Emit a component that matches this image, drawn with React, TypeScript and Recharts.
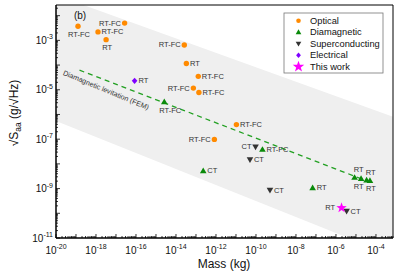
import React from 'react';
import { ComposedChart, Area, Line, Scatter, XAxis, YAxis, ReferenceArea } from 'recharts';

const FONT = '"Liberation Sans", Arial, Helvetica, sans-serif';

// axis domains (kg, g/sqrtHz)
const X_DOMAIN = [1e-20, 7.1e-4];
const Y_DOMAIN = [1e-11, 2.7e-2];

// tick labels (exponents of 10)
const xLabelExps = [-20, -18, -16, -14, -12, -10, -8, -6, -4];
const yLabelExps = [-11, -9, -7, -5, -3];
const xDecadeExps = [-20, -19, -18, -17, -16, -15, -14, -13, -12, -11, -10, -9, -8, -7, -6, -5, -4];
const yDecadeExps = [-11, -10, -9, -8, -7, -6, -5, -4, -3, -2];

// shaded band
const bandMass = [1e-20, 1e-3];
const bandUpper = [6.8e-2, 7.4e-7];
const bandLower = [5.4e-7, 1.7e-12];

// diamagnetic levitation (FEM) line
const femMass = [1.5e-19, 3.2e-5];
const femValue = [6.2e-5, 2.1e-9];

// Optical
const opticalMass = [1.26e-19, 2.7e-17, 1.26e-18, 3.2e-18, 2.6e-14, 3.3e-14, 1.3e-13, 7.4e-14, 1.4e-13, 1.05e-11, 8.3e-13];
const opticalValue = [3.7e-3, 5.0e-3, 2.2e-3, 1.07e-3, 6.5e-4, 1.15e-4, 3.5e-5, 1.17e-5, 7.8e-6, 3.9e-7, 9.8e-8];
const opticalLabel = ['RT-FC', 'RT-FC', 'RT-FC', 'RT', 'RT-FC', 'RT', 'RT-FC', 'RT-FC', 'RT-FC', 'RT-FC', 'RT-FC'];
const opticalSide = ['b', 'l', 'r', 'b', 'l', 'r', 'r', 'l', 'r', 'r', 'l'];

// Diamagnetic
const diamagMass = [2.6e-15, 2.1e-10, 2.3e-13, 6.8e-8, 8.5e-6, 1.8e-5, 3.4e-5, 5.0e-5];
const diamagValue = [3.2e-6, 3.8e-8, 5.2e-9, 1.07e-9, 2.8e-9, 2.5e-9, 2.2e-9, 2.1e-9];
const diamagLabel = ['RT-FC', 'RT-FC', 'CT', 'RT', 'RT', 'RT', 'RT', 'RT'];
const diamagSide = ['br', 'r', 'r', 'r', 'ar', 'bl', 'ar', 'b'];

// Superconducting
const superMass = [9.5e-11, 5.0e-11, 5.0e-10, 3.4e-6];
const superValue = [4.9e-8, 1.5e-8, 8.7e-10, 1.23e-10];
const superLabel = ['CT', 'CT', 'CT', 'CT'];
const superSide = ['l', 'r', 'r', 'r'];

// Electrical
const elecMass = [8.5e-17];
const elecValue = [2.3e-5];
const elecLabel = ['RT'];
const elecSide = ['r'];

// This work
const thisMass = [1.9e-6];
const thisValue = [1.66e-10];
const thisLabel = ['RT'];
const thisSide = ['l'];

const COLORS = {
  optical: '#ff8a00',
  diamag: '#0a8a0a',
  fem: '#22a022',
  superc: '#333333',
  elec: '#7f00ff',
  star: '#ff00ff',
  band: '#efefef',
};

const zip = (m: number[], v: number[], l: string[], s: string[]) =>
  m.map((mm, i) => ({ m: mm, s: v[i], label: l[i], side: s[i] }));

const bandData = bandMass.map((m, i) => ({ m, band: [bandLower[i], bandUpper[i]] }));
const femData = femMass.map((m, i) => ({ m, s: femValue[i] }));
const opticalData = zip(opticalMass, opticalValue, opticalLabel, opticalSide);
const diamagData = zip(diamagMass, diamagValue, diamagLabel, diamagSide);
const superData = zip(superMass, superValue, superLabel, superSide);
const elecData = zip(elecMass, elecValue, elecLabel, elecSide);
const thisData = zip(thisMass, thisValue, thisLabel, thisSide);

function logTicks(exps: number[], max: number) {
  const out: number[] = [];
  for (const e of exps) {
    for (let k = 1; k <= 9; k++) {
      const v = k * Math.pow(10, e);
      if (v <= max * 1.0001) out.push(v);
    }
  }
  return out;
}
const xTicks = logTicks(xDecadeExps, X_DOMAIN[1]);
const yTicks = logTicks(yDecadeExps, Y_DOMAIN[1]);

function decadeInfo(v: number) {
  const lg = Math.log10(v);
  const e = Math.round(lg);
  return { e, isDecade: Math.abs(lg - e) < 1e-6 };
}

const XTick = (props: any) => {
  const { x, y, payload } = props;
  const { e, isDecade } = decadeInfo(payload.value);
  const len = isDecade ? 4 : 2;
  const labeled = isDecade && xLabelExps.includes(e);
  return (
    <g>
      <line x1={x} y1={y} x2={x} y2={y - len} stroke="#000" strokeWidth={0.8} />
      {labeled && (
        <text x={x} y={y + 15.5} textAnchor="middle" fontSize={10} fill="#111" fontFamily={FONT}>
          <tspan>10</tspan>
          <tspan dy={-4.5} fontSize={7}>{String(e)}</tspan>
        </text>
      )}
    </g>
  );
};

const YTick = (props: any) => {
  const { x, y, payload } = props;
  const { e, isDecade } = decadeInfo(payload.value);
  const len = isDecade ? 4 : 2;
  const labeled = isDecade && yLabelExps.includes(e);
  return (
    <g>
      <line x1={x} y1={y} x2={x + len} y2={y} stroke="#000" strokeWidth={0.8} />
      {labeled && (
        <text x={x - 3} y={y + 3.6} textAnchor="end" fontSize={10} fill="#111" fontFamily={FONT}>
          <tspan>10</tspan>
          <tspan dy={-4.5} fontSize={7}>{String(e)}</tspan>
        </text>
      )}
    </g>
  );
};

function pointLabel(text: string, side: string, cx: number, cy: number, gap: number) {
  const common = { fontSize: 7.5, fill: '#333', fontFamily: FONT, dominantBaseline: 'central' as any };
  if (side === 'l') return <text x={cx - gap} y={cy} textAnchor="end" {...common}>{text}</text>;
  if (side === 'r') return <text x={cx + gap} y={cy} textAnchor="start" {...common}>{text}</text>;
  if (side === 'a') return <text x={cx + 1} y={cy - 8} textAnchor="middle" {...common}>{text}</text>;
  if (side === 'ar') return <text x={cx + 4} y={cy - 8} textAnchor="middle" {...common}>{text}</text>;
  if (side === 'bl') return <text x={cx - 2.5} y={cy + 8} textAnchor="middle" {...common}>{text}</text>;
  if (side === 'br') return <text x={cx + 6} y={cy + 9} textAnchor="middle" {...common}>{text}</text>;
  return <text x={cx + 1} y={cy + 8} textAnchor="middle" {...common}>{text}</text>;
}

function starPoints(cx: number, cy: number, ro: number, ri: number) {
  const pts: string[] = [];
  for (let i = 0; i < 10; i++) {
    const r = i % 2 === 0 ? ro : ri;
    const a = -Math.PI / 2 + (i * Math.PI) / 5;
    pts.push(`${cx + r * Math.cos(a)},${cy + r * Math.sin(a)}`);
  }
  return pts.join(' ');
}

function marker(kind: string, cx: number, cy: number, color: string, scale = 1) {
  if (kind === 'circle') return <circle cx={cx} cy={cy} r={2.7 * scale} fill={color} />;
  if (kind === 'up')
    return <polygon points={`${cx},${cy - 3.4 * scale} ${cx - 3.3 * scale},${cy + 2.3 * scale} ${cx + 3.3 * scale},${cy + 2.3 * scale}`} fill={color} />;
  if (kind === 'down')
    return <polygon points={`${cx},${cy + 3.4 * scale} ${cx - 3.3 * scale},${cy - 2.3 * scale} ${cx + 3.3 * scale},${cy - 2.3 * scale}`} fill={color} />;
  if (kind === 'diamond')
    return <polygon points={`${cx},${cy - 3.2 * scale} ${cx + 2.8 * scale},${cy} ${cx},${cy + 3.2 * scale} ${cx - 2.8 * scale},${cy}`} fill={color} />;
  return <polygon points={starPoints(cx, cy, 5.5 * scale, 2.2 * scale)} fill={color} />;
}

const makeShape = (kind: string, color: string, gap: number) => (props: any) => {
  const { cx, cy, payload } = props;
  if (cx == null || cy == null) return <g />;
  return (
    <g>
      {marker(kind, cx, cy, color)}
      {pointLabel(payload.label, payload.side, cx, cy, gap)}
    </g>
  );
};

const legendItems = [
  { name: 'Optical', kind: 'circle', color: COLORS.optical },
  { name: 'Diamagnetic', kind: 'up', color: COLORS.diamag },
  { name: 'Superconducting', kind: 'down', color: COLORS.superc },
  { name: 'Electrical', kind: 'diamond', color: COLORS.elec },
  { name: 'This work', kind: 'star', color: COLORS.star },
];

export default function App() {
  return (
    <div style={{ position: 'absolute', left: 0, top: 0, width: 399, height: 273, background: '#fff' }}>
      <div style={{ position: 'absolute', left: 0, top: 0 }}>
        <ComposedChart width={399} height={273} margin={{ top: 5, right: 6, bottom: 0, left: 0 }}>
          <XAxis
            dataKey="m"
            type="number"
            scale="log"
            domain={X_DOMAIN}
            allowDataOverflow
            ticks={xTicks}
            interval={0}
            tick={<XTick />}
            tickLine={false}
            tickSize={0}
            tickMargin={0}
            height={35}
            axisLine={{ stroke: '#000' }}
          />
          <YAxis
            dataKey="s"
            type="number"
            scale="log"
            domain={Y_DOMAIN}
            allowDataOverflow
            ticks={yTicks}
            interval={0}
            tick={<YTick />}
            tickLine={false}
            tickSize={0}
            tickMargin={0}
            width={56}
            axisLine={{ stroke: '#000' }}
          />
          <Area
            data={bandData}
            dataKey="band"
            type="linear"
            fill={COLORS.band}
            fillOpacity={1}
            stroke="none"
            isAnimationActive={false}
          />
          <Line
            data={femData}
            dataKey="s"
            type="linear"
            stroke={COLORS.fem}
            strokeWidth={1.3}
            strokeDasharray="5 4"
            dot={false}
            isAnimationActive={false}
          />
          <Scatter data={opticalData} dataKey="s" shape={makeShape('circle', COLORS.optical, 3.6)} isAnimationActive={false} />
          <Scatter data={diamagData} dataKey="s" shape={makeShape('up', COLORS.diamag, 4)} isAnimationActive={false} />
          <Scatter data={superData} dataKey="s" shape={makeShape('down', COLORS.superc, 4)} isAnimationActive={false} />
          <Scatter data={elecData} dataKey="s" shape={makeShape('diamond', COLORS.elec, 4)} isAnimationActive={false} />
          <Scatter data={thisData} dataKey="s" shape={makeShape('star', COLORS.star, 6.5)} isAnimationActive={false} />
          <ReferenceArea
            x1={X_DOMAIN[0]}
            x2={X_DOMAIN[1]}
            y1={Y_DOMAIN[0]}
            y2={Y_DOMAIN[1]}
            fill="none"
            fillOpacity={0}
            stroke="#000"
            strokeWidth={1}
            ifOverflow="visible"
          />
        </ComposedChart>
      </div>
      <svg
        width={399}
        height={273}
        style={{ position: 'absolute', left: 0, top: 0, pointerEvents: 'none' }}
        fontFamily={FONT}
      >
        <text x={80} y={18.5} textAnchor="middle" fontSize={10} fill="#111">(b)</text>
        <text
          x={106}
          y={90}
          textAnchor="middle"
          dominantBaseline="central"
          fontSize={7.2}
          fill="#333"
          transform="rotate(22.5 106 90)"
        >
          Diamagnetic levitation (FEM)
        </text>
        <text x={224} y={267.5} textAnchor="middle" fontSize={12} fill="#111">Mass (kg)</text>
        <text transform="translate(17.5 113) rotate(-90)" textAnchor="middle" fontSize={12} fill="#111">
          <tspan>√S</tspan>
          <tspan fontSize={8.5} dy={3}>aa</tspan>
          <tspan dy={-3}> (g/√Hz)</tspan>
        </text>
        <rect x={284} y={13} width={99} height={60} fill="#fff" stroke="#777" strokeWidth={0.8} />
        {legendItems.map((it, i) => {
          const cy = 20.7 + i * 11.5;
          return (
            <g key={it.name}>
              {marker(it.kind, 298.5, cy, it.color, it.kind === 'star' ? 1.1 : 0.85)}
              <text x={310} y={cy} dominantBaseline="central" fontSize={9.3} fill="#111">{it.name}</text>
            </g>
          );
        })}
      </svg>
    </div>
  );
}
